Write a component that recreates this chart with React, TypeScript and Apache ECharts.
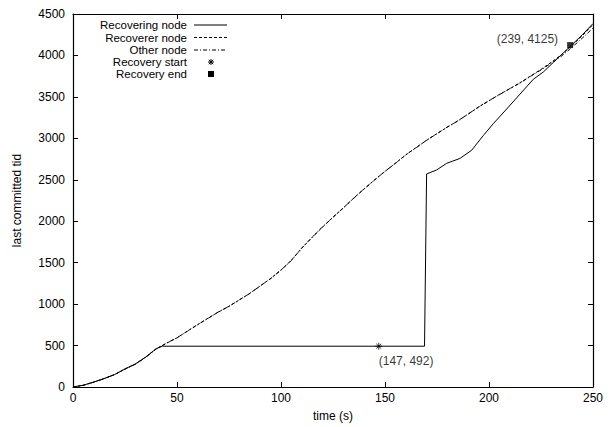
import React, { useEffect, useRef } from "react";
import * as echarts from "echarts";

const xTicks = [0, 50, 100, 150, 200, 250];
const yTicks = [0, 500, 1000, 1500, 2000, 2500, 3000, 3500, 4000, 4500];

const recovererTimes = [0, 5, 10, 15, 20, 25, 30, 35, 40, 45, 50, 55, 60, 65, 70, 75, 80, 85, 90, 95, 100, 105, 110, 115, 120, 125, 130, 135, 140, 145, 150, 155, 160, 165, 170, 175, 180, 185, 190, 195, 200, 205, 210, 215, 220, 225, 230, 235, 240, 245, 250];
const recovererValues = [0, 22, 60, 102, 150, 218, 278, 362, 462, 528, 592, 675, 752, 832, 905, 975, 1050, 1130, 1218, 1310, 1410, 1530, 1675, 1808, 1930, 2050, 2160, 2280, 2390, 2500, 2600, 2700, 2800, 2890, 2975, 3058, 3135, 3212, 3292, 3380, 3452, 3530, 3598, 3672, 3752, 3832, 3918, 4012, 4122, 4242, 4372];

const otherTimes = [0, 5, 10, 15, 20, 25, 30, 35, 40, 45, 50, 55, 60, 65, 70, 75, 80, 85, 90, 95, 100, 105, 110, 115, 120, 125, 130, 135, 140, 145, 150, 155, 160, 165, 170, 175, 180, 185, 190, 195, 200, 205, 210, 215, 220, 225, 230, 235, 240, 245, 250];
const otherValues = [0, 20, 58, 100, 152, 215, 275, 358, 458, 530, 595, 672, 755, 828, 908, 972, 1053, 1128, 1220, 1306, 1412, 1525, 1678, 1805, 1933, 2046, 2163, 2277, 2392, 2497, 2603, 2698, 2802, 2887, 2978, 3055, 3138, 3208, 3295, 3376, 3455, 3526, 3600, 3668, 3748, 3825, 3908, 3995, 4100, 4212, 4330];

const recoveringTimes = [0, 5, 10, 15, 20, 25, 30, 35, 40, 43, 100, 147, 169, 170, 174.8, 179.6, 186, 191.7, 197.3, 202, 208.5, 214.9, 221.3, 226.1, 230.9, 235.7, 239.7, 245, 250];
const recoveringValues = [0, 22, 60, 102, 150, 218, 278, 362, 462, 492, 492, 492, 492, 2570, 2618, 2698, 2757, 2857, 3035, 3175, 3354, 3533, 3712, 3800, 3915, 4030, 4125, 4252, 4385];

const recoveryStart = [147, 492];
const recoveryEnd = [239, 4125];

const legendNames = ["Recovering node", "Recoverer node", "Other node", "Recovery start", "Recovery end"];

const FONT = "'Liberation Sans', Arial, Helvetica, sans-serif";
const FS = 12;
const LFS = 11.5;

const zip = (t: number[], v: number[]) => t.map((x, i) => [x, v[i]]);

export default function App() {
  const ref = useRef<HTMLDivElement>(null);
  useEffect(() => {
    if (!ref.current) return;
    const chart = echarts.init(ref.current, null, { renderer: "svg" });
    const asterisk = "path://M0,4L8,4M4,0L4,8M1.2,1.2L6.8,6.8M6.8,1.2L1.2,6.8";

    const legendRows = [25, 37.5, 50, 62, 74];
    const textRight = 187;
    const lx1 = 194;
    const lx2 = 227;
    const mx = 211;
    const graphic: any[] = [];
    legendNames.forEach((n, i) => {
      graphic.push({
        type: "text",
        x: textRight,
        y: legendRows[i],
        style: { text: n, font: `${LFS}px ${FONT}`, lineHeight: 12, fill: "#000", align: "right", verticalAlign: "middle" },
      });
    });
    graphic.push({ type: "line", shape: { x1: lx1, y1: legendRows[0], x2: lx2, y2: legendRows[0] }, style: { stroke: "#000", lineWidth: 1 } });
    graphic.push({ type: "line", shape: { x1: lx1, y1: legendRows[1], x2: lx2, y2: legendRows[1] }, style: { stroke: "#000", lineWidth: 1, lineDash: [3, 2] } });
    graphic.push({ type: "line", shape: { x1: lx1, y1: legendRows[2], x2: lx2, y2: legendRows[2] }, style: { stroke: "#000", lineWidth: 1, lineDash: [4, 2, 1, 2] } });
    const ay = legendRows[3];
    const s = 3;
    graphic.push({ type: "line", shape: { x1: mx - s, y1: ay, x2: mx + s, y2: ay }, style: { stroke: "#000", lineWidth: 1 } });
    graphic.push({ type: "line", shape: { x1: mx, y1: ay - s, x2: mx, y2: ay + s }, style: { stroke: "#000", lineWidth: 1 } });
    graphic.push({ type: "line", shape: { x1: mx - 2.2, y1: ay - 2.2, x2: mx + 2.2, y2: ay + 2.2 }, style: { stroke: "#000", lineWidth: 1 } });
    graphic.push({ type: "line", shape: { x1: mx + 2.2, y1: ay - 2.2, x2: mx - 2.2, y2: ay + 2.2 }, style: { stroke: "#000", lineWidth: 1 } });
    graphic.push({ type: "rect", shape: { x: mx - 3, y: legendRows[4] - 3, width: 6, height: 6 }, style: { fill: "#000" } });

    const axisCommon = {
      axisLine: { show: true, onZero: false, lineStyle: { color: "#000", width: 1.2 } },
      axisTick: { show: true, inside: true, length: 5, lineStyle: { color: "#000", width: 1 } },
      splitLine: { show: false },
    };

    chart.setOption({
      animation: false,
      backgroundColor: "#fff",
      textStyle: { fontFamily: FONT },
      grid: { left: 73, right: 21, top: 14, bottom: 36, containLabel: false },
      xAxis: [
        {
          type: "value",
          min: 0,
          max: 250,
          interval: 50,
          position: "bottom",
          name: "time (s)",
          nameLocation: "middle",
          nameGap: 23,
          nameTextStyle: { fontSize: FS, color: "#000", fontFamily: FONT },
          axisLabel: { fontSize: FS, color: "#000", margin: 5, fontFamily: FONT, formatter: (v: number) => (xTicks.includes(v) ? String(v) : "") },
          ...axisCommon,
        },
        {
          type: "value",
          min: 0,
          max: 250,
          interval: 50,
          position: "top",
          axisLabel: { show: false },
          ...axisCommon,
        },
      ],
      yAxis: [
        {
          type: "value",
          min: 0,
          max: 4500,
          interval: 500,
          position: "left",
          name: "last committed tid",
          nameLocation: "middle",
          nameGap: 50,
          nameTextStyle: { fontSize: FS, color: "#000", fontFamily: FONT },
          axisLabel: { fontSize: FS, color: "#000", margin: 8, fontFamily: FONT, formatter: (v: number) => (yTicks.includes(v) ? String(v) : "") },
          ...axisCommon,
        },
        {
          type: "value",
          min: 0,
          max: 4500,
          interval: 500,
          position: "right",
          axisLabel: { show: false },
          ...axisCommon,
        },
      ],
      graphic,
      series: [
        {
          name: "Recovering node",
          type: "line",
          data: zip(recoveringTimes, recoveringValues),
          showSymbol: false,
          symbol: "none",
          lineStyle: { color: "#000", width: 1 },
          z: 3,
        },
        {
          name: "Recoverer node",
          type: "line",
          data: zip(recovererTimes, recovererValues),
          showSymbol: false,
          symbol: "none",
          lineStyle: { color: "#000", width: 1, type: [3, 2] },
          z: 2,
        },
        {
          name: "Other node",
          type: "line",
          data: zip(otherTimes, otherValues),
          showSymbol: false,
          symbol: "none",
          lineStyle: { color: "#000", width: 1, type: [4, 2, 1, 2] },
          z: 2,
        },
        {
          name: "Recovery start",
          type: "scatter",
          data: [recoveryStart],
          symbol: asterisk,
          symbolSize: 7,
          itemStyle: { color: "none", borderColor: "#000", borderWidth: 1 },
          label: {
            show: true,
            formatter: () => `(${recoveryStart[0]}, ${recoveryStart[1]})`,
            position: "bottom",
            distance: 3,
            align: "left",
            fontSize: FS,
            color: "#000",
            fontFamily: FONT,
          },
          z: 5,
        },
        {
          name: "Recovery end",
          type: "scatter",
          data: [recoveryEnd],
          symbol: "rect",
          symbolSize: 6,
          itemStyle: { color: "#000" },
          label: {
            show: true,
            formatter: () => `(${recoveryEnd[0]}, ${recoveryEnd[1]})`,
            position: "left",
            distance: 9,
            offset: [0, -6],
            fontSize: FS,
            color: "#000",
            fontFamily: FONT,
          },
          z: 5,
        },
      ],
    });
    return () => chart.dispose();
  }, []);
  return <div ref={ref} style={{ width: 614, height: 427, position: "absolute", left: 0, top: 0 }} />;
}
